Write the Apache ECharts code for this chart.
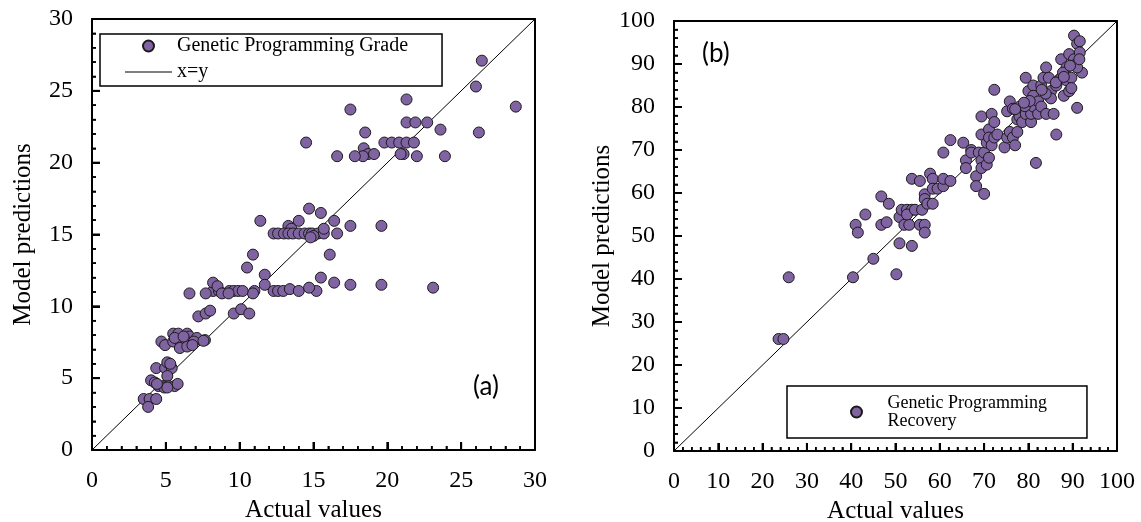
<!DOCTYPE html>
<html>
<head>
<meta charset="utf-8">
<script src="https://cdn.jsdelivr.net/npm/echarts@6/dist/echarts.min.js"></script>
<style>
html,body{margin:0;padding:0;background:#fff;}
#c{width:1141px;height:522px;}
</style>
</head>
<body>
<div id="c"></div>
<script>
// ---- Data ----
const gradeActual = [26.4,26.0,28.7,26.2,21.3,17.5,21.3,21.9,22.7,23.6,18.5,14.5,19.8,20.3,20.8,21.3,21.8,18.4,21.1,20.9,18.7,19.1,18.35,16.6,17.8,22.0,23.9,
14.7,15.5,11.4,14.0,16.4,13.3,17.5,19.6,13.5,12.3,12.6,13.0,13.3,13.6,14.0,14.4,14.7,14.9,15.3,15.7,16.6,15.0,14.8,15.7,16.1,10.9,10.5,11.7,11.7,
12.3,12.6,12.95,13.4,14.0,15.2,14.7,15.5,16.4,17.5,19.6,23.1,11.0,10.9,8.2,8.6,9.3,9.6,9.9,10.2,8.2,8.5,8.8,9.25,6.6,7.7,7.2,7.7,8.0,9.6,10.1,10.65,
5.5,5.85,6.45,6.6,7.1,4.7,4.95,5.5,5.95,6.4,6.9,7.65,5.95,6.45,7.55,6.8,5.6,6.2,
4.35,4.95,5.4,5.1,5.1,4.0,4.25,4.5,4.85,5.2,5.6,4.9,5.1,4.4,3.5,3.9,4.35,3.8,5.8,5.3];
const gradePred = [27.1,25.3,23.9,22.1,24.4,23.7,22.8,22.8,22.8,22.3,22.1,21.4,21.4,21.4,21.4,21.4,21.4,21.0,20.6,20.6,20.6,20.6,20.45,20.45,20.45,20.45,20.45,
16.8,16.5,15.95,15.95,15.95,15.6,15.6,15.6,15.4,15.07,15.07,15.07,15.07,15.07,15.07,15.07,15.07,15.07,15.07,15.07,15.07,14.9,14.8,15.4,13.6,13.6,12.7,12.2,11.5,
11.07,11.07,11.07,11.2,11.07,11.07,11.3,12.0,11.65,11.5,11.5,11.3,11.07,10.9,11.07,11.07,11.07,11.07,11.07,11.07,11.65,11.4,10.9,10.9,10.9,10.9,9.3,9.5,9.7,9.5,9.8,9.5,
8.1,8.1,8.1,7.9,7.8,7.55,7.3,7.55,7.55,7.55,7.55,7.65,7.1,7.2,7.6,7.3,7.8,7.9,
5.7,5.7,5.7,6.1,5.15,4.85,4.7,4.45,4.45,4.45,4.45,4.35,4.35,4.6,3.55,3.55,3.55,3.0,4.6,6.0];

const recoveryActual = [23.6,24.7,25.9,40.4,45.0,50.2,50.9,53.7,41.0,41.5,43.2,46.8,48.5,46.8,48.0,50.9,51.4,52.6,53.7,52.0,53.1,52.6,53.7,54.4,55.5,55.5,56.0,
56.6,56.6,56.6,56.6,57.2,57.8,58.4,58.4,58.4,59.5,60.8,60.8,60.8,62.4,62.4,65.3,65.9,65.9,67.1,67.1,68.2,68.2,68.8,69.4,69.4,69.4,69.4,70.0,70.0,
70.6,70.6,71.1,71.1,71.1,71.7,71.7,72.3,72.3,72.3,73.0,74.6,75.2,75.2,75.8,75.8,76.5,76.5,77.0,77.5,77.5,78.0,78.0,78.6,79.4,79.4,80.0,80.6,80.6,
81.1,81.1,81.1,81.7,82.2,82.2,82.9,82.9,83.4,84.0,84.0,84.6,84.6,85.1,85.1,85.7,86.3,86.3,86.8,87.4,87.4,88.0,88.6,88.6,89.2,89.2,89.7,89.7,
90.3,90.3,90.3,91.0,91.0,91.6,91.6,92.1,91.0,91.5,79.2,80.3,83.9,86.2,87.8,89.4,77.0,79.0,83.0,88.0];
const recoveryPred = [26.05,26.05,40.4,40.4,44.7,41.1,48.3,47.7,52.6,50.8,55.0,59.2,57.5,52.6,53.2,54.4,56.1,56.1,56.1,52.6,52.6,55.0,63.3,56.1,62.8,52.6,56.1,
59.7,58.6,52.6,50.8,57.5,64.5,63.3,61.0,57.5,61.0,61.6,63.3,69.4,72.3,62.8,71.7,67.6,65.8,70.0,69.4,63.9,61.6,69.4,77.8,73.6,67.6,65.8,69.4,59.8,
71.7,66.6,74.8,72.9,68.2,78.4,71.1,84.0,76.5,72.9,73.6,70.6,79.0,72.9,81.3,74.2,79.6,72.9,71.1,77.1,74.2,80.1,77.8,76.5,86.8,78.4,83.7,76.5,78.4,
85.0,82.6,80.1,67.0,78.4,81.3,80.1,85.0,86.8,89.2,78.4,86.8,82.6,83.7,82.0,78.4,73.6,85.0,86.2,91.1,86.8,82.6,89.2,86.2,92.3,83.7,86.8,84.4,
96.6,91.1,89.7,94.7,79.8,95.3,92.7,88.0,89.2,91.1,80.2,81.4,83.1,85.7,88.0,89.6,79.5,81.0,84.0,87.0];

const gradeTicks = {min: 0, max: 30, interval: 5, minor: 1};
const recoveryTicks = {min: 0, max: 100, interval: 10, minor: 2};
const identityA = [[0, 0], [30, 30]];
const identityB = [[0, 0], [100, 100]];

const pairs = (xs, ys) => xs.map((x, i) => [x, ys[i]]);

// ---- Styles ----
const SERIF = 'Liberation Serif';
const MARK = '#8064A2';
function axis(t, gridIndex, name, nameGap) {
  return {
    type: 'value', gridIndex, min: t.min, max: t.max, interval: t.interval,
    name, nameLocation: 'middle', nameGap,
    nameTextStyle: {fontFamily: SERIF, fontSize: 25, color: '#000'},
    axisLine: {show: true, lineStyle: {color: '#000', width: 2}},
    axisTick: {show: true, inside: true, length: 8, lineStyle: {color: '#000', width: 2}},
    minorTick: {show: true, splitNumber: t.interval / t.minor, length: 4, lineStyle: {color: '#000', width: 1.5}},
    splitLine: {show: false},
    axisLabel: {fontFamily: SERIF, fontSize: 24, color: '#000', margin: 19}
  };
}
function frame(t, gridIndex, position) {
  return {
    type: 'value', gridIndex, position, min: t.min, max: t.max, interval: t.interval,
    axisLine: {show: true, onZero: false, lineStyle: {color: '#000', width: 2}},
    axisTick: {show: false}, minorTick: {show: false},
    axisLabel: {show: false}, splitLine: {show: false}
  };
}
// backup inward tick marks, placed through the axis scale
function tickSeries(t, axisIndex, isX) {
  const vals = [];
  for (let v = t.min; v <= t.max + 1e-9; v += t.minor) vals.push(+v.toFixed(6));
  return {
    type: 'custom', coordinateSystem: 'cartesian2d', xAxisIndex: axisIndex, yAxisIndex: axisIndex,
    silent: true, z: 10, clip: false,
    data: vals.map(v => isX ? [v, t.min] : [t.min, v]),
    encode: {x: 0, y: 1},
    renderItem: function (params, api) {
      const x = api.value(0), y = api.value(1);
      const v = isX ? x : y;
      const p = api.coord([x, y]);
      const major = Math.abs(v / t.interval - Math.round(v / t.interval)) < 1e-6;
      const len = major ? 8 : 4;
      return {
        type: 'line',
        shape: isX ? {x1: p[0], y1: p[1], x2: p[0], y2: p[1] - len}
                   : {x1: p[0], y1: p[1], x2: p[0] + len, y2: p[1]},
        style: {stroke: '#000', lineWidth: major ? 2 : 1.5, fill: null}
      };
    }
  };
}

const chart = echarts.init(document.getElementById('c'));
chart.setOption({
  animation: false,
  grid: [
    {left: 92, top: 19, width: 443, height: 431, outerBoundsMode: 'none'},
    {left: 674, top: 21, width: 443, height: 430, outerBoundsMode: 'none'}
  ],
  xAxis: [
    axis(gradeTicks, 0, 'Actual values', 45),
    axis(recoveryTicks, 1, 'Actual values', 45),
    frame(gradeTicks, 0, 'top'),
    frame(recoveryTicks, 1, 'top')
  ],
  yAxis: [
    axis(gradeTicks, 0, 'Model predictions', 56),
    axis(recoveryTicks, 1, 'Model predictions', 55),
    frame(gradeTicks, 0, 'right'),
    frame(recoveryTicks, 1, 'right')
  ],
  legend: [
    {
      data: [
        {name: 'Genetic Programming Grade'},
        {name: 'x=y', icon: 'path://M0,0 L47,0 L47,1.2 L0,1.2 Z'}
      ],
      orient: 'vertical', left: 100, top: 34,
      itemWidth: 47, itemHeight: 11, itemGap: 6,
      padding: [2, 34, 4, 25],
      borderColor: '#000', borderWidth: 1.5, borderRadius: 0,
      textStyle: {fontFamily: SERIF, fontSize: 20, color: '#000'},
      selectedMode: false
    },
    {
      data: ['Genetic Programming Recovery'],
      orient: 'vertical', left: 787, top: 386,
      itemWidth: 52, itemHeight: 11,
      padding: [8, 40, 8, 63],
      borderColor: '#000', borderWidth: 1.5, borderRadius: 0,
      formatter: n => n.replace(' Recovery', '\nRecovery'),
      textStyle: {fontFamily: SERIF, fontSize: 18, lineHeight: 18, color: '#000'},
      selectedMode: false
    }
  ],
  series: [
    {
      name: 'x=y', type: 'line', xAxisIndex: 0, yAxisIndex: 0, data: identityA,
      symbol: 'none', silent: true, lineStyle: {color: '#000', width: 1}, itemStyle: {color: '#000'}, z: 1
    },
    {
      name: 'Genetic Programming Grade', type: 'scatter', xAxisIndex: 0, yAxisIndex: 0,
      data: pairs(gradeActual, gradePred), symbolSize: 11,
      itemStyle: {color: MARK, borderColor: '#1a1a1a', borderWidth: 1, opacity: 1}, z: 3
    },
    {
      name: 'identity b', type: 'line', xAxisIndex: 1, yAxisIndex: 1, data: identityB,
      symbol: 'none', silent: true, lineStyle: {color: '#000', width: 1}, z: 1
    },
    {
      name: 'Genetic Programming Recovery', type: 'scatter', xAxisIndex: 1, yAxisIndex: 1,
      data: pairs(recoveryActual, recoveryPred), symbolSize: 11,
      itemStyle: {color: MARK, borderColor: '#1a1a1a', borderWidth: 1, opacity: 1}, z: 3
    },
    tickSeries(gradeTicks, 0, true),
    tickSeries(gradeTicks, 0, false),
    tickSeries(recoveryTicks, 1, true),
    tickSeries(recoveryTicks, 1, false)
  ],
  graphic: [
    {type: 'text', left: 473, top: 374, style: {text: '(a)', font: '26px Lato', fill: '#000'}},
    {type: 'text', left: 702, top: 41, style: {text: '(b)', font: '26px Lato', fill: '#000'}}
  ]
});
</script>
</body>
</html>
